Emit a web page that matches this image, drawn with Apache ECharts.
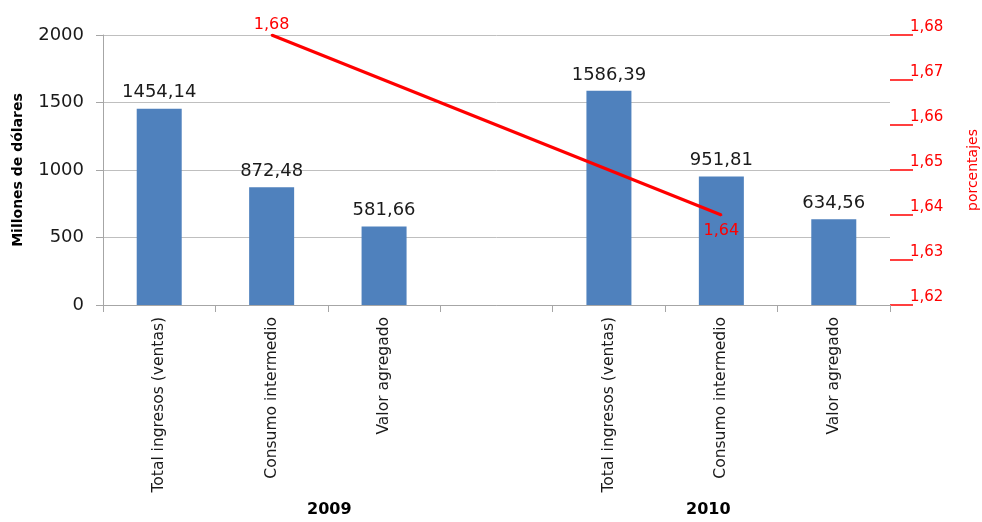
<!DOCTYPE html>
<html>
<head>
<meta charset="utf-8">
<script src="https://cdn.jsdelivr.net/npm/echarts@6/dist/echarts.min.js"></script>
<style>html,body{margin:0;padding:0;background:#fff}#c{width:982px;height:522px}</style>
</head>
<body>
<div id="c"></div>
<script>
var categories = ['Total ingresos (ventas)', 'Consumo intermedio', 'Valor agregado', '', 'Total ingresos (ventas)', 'Consumo intermedio', 'Valor agregado'];
var barValues = [1454.14, 872.48, 581.66, null, 1586.39, 951.81, 634.56];
var pctValues = [null, 1.68, null, null, null, 1.64, null];
var leftTicks = { min: 0, max: 2000, interval: 500 };
var rightTicks = { min: 1.62, max: 1.68, interval: 0.01 };
var years = ['2009', '2010'];

var FONT = 'DejaVu Sans';
function fmt(v, d) { return v.toFixed(d).replace('.', ','); }

var chart = echarts.init(document.getElementById('c'), null, { renderer: 'canvas' });
chart.setOption({
  animation: false,
  backgroundColor: '#ffffff',
  textStyle: { fontFamily: FONT },
  grid: { left: 103, right: 92, top: 35, bottom: 217, containLabel: false, outerBoundsMode: 'none' },
  xAxis: [{
    type: 'category',
    data: categories,
    axisLine: { show: true, lineStyle: { color: '#a6a6a6', width: 1 } },
    axisTick: { show: true, length: 7, lineStyle: { color: '#a6a6a6' }, alignWithLabel: false },
    axisLabel: { rotate: 90, interval: 0, margin: 12, fontSize: 15.5, color: '#1a1a1a', fontFamily: FONT },
    splitLine: { show: false }
  }],
  yAxis: [{
    type: 'value',
    min: leftTicks.min, max: leftTicks.max, interval: leftTicks.interval,
    name: 'Millones de dólares',
    nameLocation: 'middle',
    nameGap: 78,
    nameTextStyle: { fontSize: 14, fontWeight: 'bold', color: '#000', fontFamily: FONT },
    axisLine: { show: true, lineStyle: { color: '#a6a6a6' } },
    axisTick: { show: true, length: 7, lineStyle: { color: '#a6a6a6' } },
    axisLabel: { fontSize: 18, color: '#1a1a1a', margin: 19, fontFamily: FONT,
      formatter: function (v) { return String(v); } },
    splitLine: { show: true, lineStyle: { color: '#bfbfbf', width: 1 } }
  }, {
    type: 'value',
    position: 'right',
    min: rightTicks.min, max: rightTicks.max, interval: rightTicks.interval,
    name: 'porcentajes',
    nameLocation: 'middle',
    nameGap: 76,
    nameRotate: 90,
    nameTextStyle: { fontSize: 14, color: '#ff0000', fontFamily: FONT },
    axisLine: { show: false },
    axisTick: { show: true, length: 23, lineStyle: { color: '#ff0000', width: 1.5 } },
    axisLabel: {
      fontSize: 15, color: '#ff0000', margin: 20, verticalAlign: 'bottom', fontFamily: FONT,
      formatter: function (v) { return fmt(v, 2); }
    },
    splitLine: { show: false }
  }],
  series: [{
    type: 'bar',
    data: barValues,
    barWidth: 45,
    itemStyle: { color: '#4f81bd' },
    label: {
      show: true, position: 'top', distance: 7, fontSize: 18, color: '#1a1a1a', fontFamily: FONT,
      formatter: function (p) { return fmt(p.value, 2); }
    }
  }, {
    type: 'line',
    yAxisIndex: 1,
    data: pctValues.map(function (v, i) {
      if (v === null) return null;
      return { value: v, label: i < 3 ? { position: 'top', distance: 1 } : { position: 'bottom', distance: 7 } };
    }),
    connectNulls: true,
    symbol: 'circle',
    symbolSize: 2,
    showSymbol: true,
    itemStyle: { color: '#ff0000' },
    lineStyle: { color: '#ff0000', width: 3 },
    labelLayout: { hideOverlap: false },
    label: {
      show: true, fontSize: 16, color: '#ff0000', distance: 5, fontFamily: FONT,
      formatter: function (p) { return fmt(p.value, 2); }
    }
  }],
  graphic: [
    { type: 'text', left: 307, top: 502, style: { text: years[0], fontSize: 16, fontWeight: 'bold', fontFamily: FONT, fill: '#000', textAlign: 'center' } },
    { type: 'text', left: 686, top: 502, style: { text: years[1], fontSize: 16, fontWeight: 'bold', fontFamily: FONT, fill: '#000', textAlign: 'center' } }
  ]
});
</script>
</body>
</html>
